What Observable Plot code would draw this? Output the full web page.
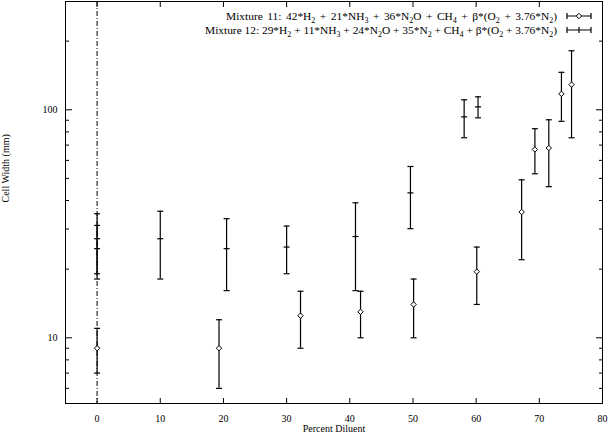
<!DOCTYPE html>
<html><head><meta charset="utf-8">
<script src="https://cdn.jsdelivr.net/npm/d3@7"></script>
<script src="https://cdn.jsdelivr.net/npm/@observablehq/plot@0.6"></script>
<style>
body{margin:0;background:#fff;}
#wrap{position:relative;width:610px;height:435px;font-family:"Liberation Serif",serif;}
#legend{position:absolute;right:14px;top:9px;font-size:11.4px;line-height:14px;text-align:right;color:#000;}
#legend .row{display:flex;justify-content:flex-end;align-items:center;height:14px;white-space:nowrap;}
#legend .row.first span{word-spacing:1.7px;}
#legend sub{font-size:8px;vertical-align:-3px;line-height:0;}
#legend svg{margin-left:3px;}
</style></head><body><div id="wrap"><div id="legend"></div></div>
<script>
// Mixture 11 (diamonds)
const mix11X  = [0, 19.3, 32.2, 41.7, 50.1, 60.1, 67.2, 69.3, 71.5, 73.5, 75.1];
const mix11Y  = [9, 9, 12.5, 13, 14, 19.5, 35.6, 67, 68, 117.5, 129];
const mix11Lo = [7, 6, 9, 10, 10, 14, 22, 52.4, 46, 89, 75.4];
const mix11Hi = [11, 12, 16, 16, 18.1, 25, 49.3, 82.6, 90.4, 146, 181.5];
// Mixture 12 (plus ticks)
const mix12X  = [0, 0, 10, 20.5, 30, 40.9, 49.6, 58.1, 60.3];
const mix12Y  = [27.2, 24.6, 27.2, 24.6, 25, 27.8, 43.2, 93.1, 103];
const mix12Lo = [19.1, 18.1, 18.1, 16.1, 19.1, 16.1, 30.1, 75.4, 92.2];
const mix12Hi = [35, 31.1, 35.9, 33.3, 30.9, 39.1, 56.4, 110.6, 114];

const xTicks = [0, 10, 20, 30, 40, 50, 60, 70, 80];
const yMajor = [10, 100];
const yMinor = [6, 7, 8, 9, 20, 30, 40, 50, 60, 70, 80, 90, 200];
const xLabel = "Percent Diluent";
const yLabel = "Cell Width (mm)";
const legendLabels = [
  "Mixture 11: 42*H<sub>2</sub> + 21*NH<sub>3</sub> + 36*N<sub>2</sub>O + CH<sub>4</sub> + β*(O<sub>2</sub> + 3.76*N<sub>2</sub>)",
  "Mixture 12: 29*H<sub>2</sub> + 11*NH<sub>3</sub> + 24*N<sub>2</sub>O + 35*N<sub>2</sub> + CH<sub>4</sub> + β*(O<sub>2</sub> + 3.76*N<sub>2</sub>)"
];

const mix11 = mix11X.map((x, i) => ({x, y: mix11Y[i], lo: mix11Lo[i], hi: mix11Hi[i]}));
const mix12 = mix12X.map((x, i) => ({x, y: mix12Y[i], lo: mix12Lo[i], hi: mix12Hi[i]}));

const cap = {draw(ctx) { ctx.moveTo(-3, 0); ctx.lineTo(3, 0); }};
const diamond = {draw(ctx) { ctx.moveTo(0, -2.7); ctx.lineTo(2.7, 0); ctx.lineTo(0, 2.7); ctx.lineTo(-2.7, 0); ctx.closePath(); }};

const font = "Liberation Serif";
const chart = Plot.plot({
  width: 610, height: 435,
  marginLeft: 65, marginRight: 8, marginTop: 1, marginBottom: 32,
  style: {fontFamily: font, fontSize: "10px", color: "#000", background: "#fff"},
  x: {domain: [-5, 80]},
  y: {type: "log", domain: [5.15, 298.5]},
  marks: [
    Plot.frame({stroke: "#000", strokeWidth: 1}),
    Plot.ruleX([0], {stroke: "#000", strokeWidth: 1, strokeDasharray: "5,2,1,2"}),
    Plot.axisX({ticks: xTicks, tickSize: -5, tickPadding: 16, tickFormat: d => d, label: null, fontSize: 10}),
    Plot.axisX({anchor: "top", ticks: xTicks, tickSize: -5, tickFormat: () => "", label: null}),
    Plot.axisY({ticks: yMajor, tickSize: -7, tickPadding: 15, tickFormat: d => d, label: null, fontSize: 10}),
    Plot.axisY({ticks: yMinor, tickSize: -4, tickFormat: () => "", label: null}),
    Plot.axisY({anchor: "right", ticks: yMajor, tickSize: -7, tickFormat: () => "", label: null}),
    Plot.axisY({anchor: "right", ticks: yMinor, tickSize: -4, tickFormat: () => "", label: null}),
    Plot.text([yLabel], {frameAnchor: "left", dx: -60, rotate: -90, fontSize: 10}),
    Plot.text([xLabel], {frameAnchor: "bottom", dy: 28, fontSize: 10}),
    // Mixture 12
    Plot.ruleX(mix12, {x: "x", y1: "lo", y2: "hi", stroke: "#000", strokeWidth: 1.2}),
    Plot.dot(mix12, {x: "x", y: "lo", symbol: cap, stroke: "#000", strokeWidth: 1.2, fill: "none"}),
    Plot.dot(mix12, {x: "x", y: "hi", symbol: cap, stroke: "#000", strokeWidth: 1.2, fill: "none"}),
    Plot.dot(mix12, {x: "x", y: "y", symbol: cap, stroke: "#000", strokeWidth: 1.2, fill: "none"}),
    // Mixture 11
    Plot.ruleX(mix11, {x: "x", y1: "lo", y2: "hi", stroke: "#000", strokeWidth: 1.2}),
    Plot.dot(mix11, {x: "x", y: "lo", symbol: cap, stroke: "#000", strokeWidth: 1.2, fill: "none"}),
    Plot.dot(mix11, {x: "x", y: "hi", symbol: cap, stroke: "#000", strokeWidth: 1.2, fill: "none"}),
    Plot.dot(mix11, {x: "x", y: "y", symbol: diamond, stroke: "#000", strokeWidth: 1, fill: "#fff"})
  ]
});
document.getElementById("wrap").prepend(chart);

const legend = document.getElementById("legend");
legendLabels.forEach((lbl, i) => {
  const row = document.createElement("div");
  row.className = i === 0 ? "row first" : "row";
  const mid = i === 0
    ? '<path d="M19,2.3L21.7,5L19,7.7L16.3,5Z" fill="#fff" stroke="#000" stroke-width="1"/>'
    : '<path d="M19,2V8" stroke="#000" stroke-width="1.2"/>';
  row.innerHTML = `<span>${lbl}</span><svg width="36" height="10" viewBox="0 0 36 10">` +
    `<path d="M7,5H31M7,2V8M31,2V8" stroke="#000" stroke-width="1.2" fill="none"/>${mid}</svg>`;
  legend.appendChild(row);
});
</script>
</body></html>
